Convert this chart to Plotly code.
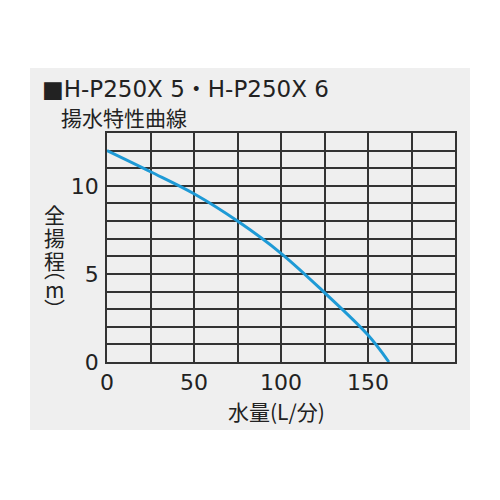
import plotly.graph_objects as go

# pump curve
flow = [0, 25, 50, 75, 100, 125, 150, 162]
head = [12, 10.8, 9.55, 8.0, 6.17, 3.94, 1.53, 0]

x_ticks = [0, 50, 100, 150]
y_ticks = [0, 5, 10]

title_1 = "■H-P250X 5・H-P250X 6"
title_2 = "揚水特性曲線"
x_title = "水量(L/分)"
y_title_chars = ["全", "揚", "程", "︵", "m", "︶"]

LATIN = "DejaVu Sans, Noto Sans CJK JP"
CJK = "Noto Sans CJK JP"
GRID = "#333333"
PANEL = "#efefef"
INK = "#222222"

# the page puts the figure 8px in from the top-left corner
W = H = 492
L, R, T, B = 99, 45, 125, 138
PW, PH = W - L - R, H - T - B


def px(x):
    # page x in pixels -> paper x
    return (x - 8 - L) / PW


def py(y):
    # page y in pixels -> paper y
    return (H - B - (y - 8)) / PH


fig = go.Figure()

fig.add_trace(go.Scatter(
    x=flow, y=head,
    mode="lines",
    line=dict(color="#1e9ad6", width=3, shape="spline", smoothing=1),
    hoverinfo="skip",
    showlegend=False,
))

fig.update_layout(
    width=W, height=H,
    margin=dict(l=L, r=R, t=T, b=B),
    paper_bgcolor="white",
    plot_bgcolor=PANEL,
    font=dict(family=LATIN, color=INK),
    xaxis=dict(
        range=[0, 200],
        showgrid=True, gridcolor=GRID, gridwidth=1.5,
        showline=True, linecolor=GRID, linewidth=1.5, mirror=True,
        zeroline=False,
        tickmode="array", tickvals=x_ticks, ticktext=[str(v) for v in x_ticks],
        ticks="", tickfont=dict(size=22, family=LATIN, color=INK),
        ticklabelstandoff=0,
        minor=dict(dtick=25, tick0=0, showgrid=True, gridcolor=GRID, gridwidth=1.5),
    ),
    yaxis=dict(
        range=[0, 13],
        showgrid=True, gridcolor=GRID, gridwidth=1.5,
        showline=True, linecolor=GRID, linewidth=1.5, mirror=True,
        zeroline=False,
        tickmode="array", tickvals=y_ticks, ticktext=[str(v) for v in y_ticks],
        ticks="", tickfont=dict(size=22, family=LATIN, color=INK),
        ticklabelstandoff=2,
        minor=dict(dtick=1, tick0=0, showgrid=True, gridcolor=GRID, gridwidth=1.5),
    ),
)

# gray panel behind everything
fig.add_shape(type="rect", xref="paper", yref="paper",
              x0=px(30), x1=px(470), y0=py(430), y1=py(68),
              fillcolor=PANEL, line_width=0, layer="below")

# titles
fig.add_annotation(text=title_1, xref="paper", yref="paper",
                   x=px(40), y=py(89), xanchor="left", yanchor="middle",
                   showarrow=False, font=dict(size=23, family=LATIN, color=INK))
fig.add_annotation(text=title_2, xref="paper", yref="paper",
                   x=px(59), y=py(117), xanchor="left", yanchor="middle",
                   showarrow=False, font=dict(size=21, family=CJK, color=INK))
fig.add_annotation(text=x_title, xref="paper", yref="paper",
                   x=px(276), y=py(411), xanchor="center", yanchor="middle",
                   showarrow=False, font=dict(size=21, family=CJK, color=INK))

# vertical y axis title, one glyph at a time
ycenters = [214, 237, 260, 268, 289, 308]
for ch, yc in zip(y_title_chars, ycenters):
    fig.add_annotation(text=ch, xref="paper", yref="paper",
                       x=px(54), y=py(yc), xanchor="center", yanchor="middle",
                       showarrow=False, font=dict(size=21, family=CJK, color=INK))

fig.write_html("out.html")
